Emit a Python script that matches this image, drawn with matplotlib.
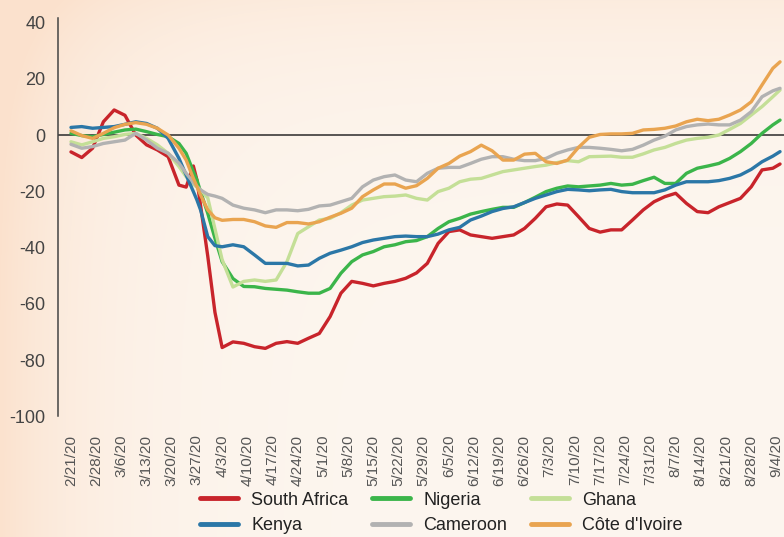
import matplotlib
matplotlib.use('Agg')
import matplotlib.pyplot as plt
import numpy as np
import pandas as pd

plt.rcParams['font.family'] = ['Liberation Sans', 'DejaVu Sans']
plt.rcParams['axes.unicode_minus'] = False

days = ([0, 3, 6, 9, 12, 15, 18, 21, 24, 27, 30, 32, 34, 35, 36, 38, 40, 42]
        + list(range(45, 196, 3)) + [197])

south_africa = [-6, -8, -4.7, 4.7, 8.9, 7, 0, -3.5, -5.3, -7.7, -17.8,
                -18.5, -11, -16, -25, -43, -63, -75.5,
                -73.5, -74, -75.2, -75.8, -74, -73.4, -74, -72.2, -70.5, -64.5,
                -56.2, -52, -52.7, -53.6, -52.7, -52, -50.9, -49, -45.6, -38.5,
                -34.3, -33.7, -35.5, -36.1, -36.7, -36.1, -35.5, -33.2, -29.6, -25.5,
                -24.5, -24.9, -29, -33.2, -34.5, -33.7, -33.7, -30.2, -26.6, -23.7,
                -21.9, -20.7, -24.3, -27.2, -27.6, -25.5, -24, -22.5, -18.4, -12.4,
                -11.8, -10.3]
kenya = [2.7, 3, 2.4, 2.7, 3, 3.8, 4.7, 4.1, 2.4, -1.2, -8.3,
         -14.2, -20.1, -23.1, -26.6, -36.1, -39.3, -39.7,
         -39, -39.7, -42.6, -45.6, -45.6, -45.6, -46.5, -46.2, -43.8, -42,
         -40.9, -39.7, -38.2, -37.3, -36.7, -36.1, -35.9, -36.1, -36.1, -35.2,
         -33.7, -32.8, -30.2, -28.8, -27.2, -26.1, -25.5, -24, -22.5, -21.3,
         -20.1, -19.3, -19.5, -19.8, -19.5, -19.3, -20.1, -20.5, -20.5, -20.5,
         -19.5, -17.8, -16.6, -16.6, -16.6, -16.2, -15.4, -14.2, -12.2, -9.5,
         -7.5, -5.9]
nigeria = [0.6, -0.2, -0.6, 0.2, 1, 1.8, 2.1, 1.2, 0.2, -0.6, -3,
           -6.5, -13, -16, -20.1, -27.8, -36.7, -45,
           -51, -53.8, -53.9, -54.5, -54.8, -55.1, -55.7, -56.2, -56.2, -54.5,
           -49.1, -45, -42.6, -41.4, -39.7, -39, -37.9, -37.5, -36.1, -33.2,
           -30.8, -29.6, -28.1, -27.2, -26.4, -25.7, -25.7, -24, -22.1, -20.1,
           -18.9, -18.1, -18.4, -18.1, -17.8, -17.2, -17.8, -17.5, -16.2, -15,
           -17.2, -17.2, -13.6, -11.8, -11, -10.1, -8.3, -5.9, -3, 0.6,
           3.6, 5.3]
ghana = [-2.4, -3.5, -2.4, -1.2, -0.6, 0.2, 0.6, -1.2, -3.5, -6.5, -11.2,
         -14.8, -17.5, -18.5, -19.5, -22.3, -33.3, -44.3,
         -54, -52, -51.5, -52, -51.5, -45, -35, -32.6, -30.2, -29.6,
         -27.6, -24.9, -23.1, -22.5, -21.9, -21.7, -21.3, -22.5, -23.1, -20.1,
         -18.9, -16.6, -15.7, -15.4, -14.2, -13, -12.4, -11.8, -11.2, -10.7,
         -9.8, -9.1, -9.5, -7.7, -7.6, -7.5, -7.9, -7.9, -6.7, -5.3,
         -4.4, -3, -1.8, -1.2, -0.8, 0, 2, 4.1, 7.1, 10.1,
         13.6, 16]
cameroon = [-3.3, -4.7, -4.1, -3, -2.4, -1.8, 0.6, -1.8, -4.7, -6.5, -10,
            -13.6, -16.8, -18.3, -19.5, -21.1, -21.7, -22.5,
            -24.9, -26, -26.6, -27.6, -26.6, -26.6, -26.9, -26.4, -25.2, -24.9,
            -23.7, -22.5, -18.4, -16, -14.8, -14.2, -16, -16.6, -13.6, -11.8,
            -11.5, -11.5, -10.1, -8.6, -7.7, -7.7, -8.6, -9.1, -9.1, -8.3,
            -6.5, -5.3, -4.4, -4.4, -4.7, -5.1, -5.6, -5.1, -3.6, -1.8,
            -0.4, 1.8, 3, 3.6, 3.9, 3.6, 3.6, 5.3, 8.3, 13.6,
            15.7, 16.6]
cote_divoire = [1.5, -0.2, -1.2, 0.6, 2.6, 3.8, 4.4, 3.8, 2.4, 0, -4.7,
                -8.9, -15.4, -18.3, -21.3, -26.6, -29.4, -30.3,
                -30, -30, -30.8, -32.3, -32.8, -31.1, -31.1, -31.6, -30.8, -29.2,
                -27.8, -26, -21.9, -19.5, -17.4, -17.4, -18.9, -18, -15.4, -11.8,
                -10.1, -7.5, -5.9, -3.6, -5.6, -8.9, -8.9, -6.8, -6.5, -9.5,
                -10.1, -8.9, -4.4, -0.8, 0.2, 0.4, 0.4, 0.6, 1.8, 2,
                2.4, 3.2, 4.7, 5.6, 5.1, 5.6, 7.1, 8.9, 11.8, 17.8,
                23.7, 26]

start = pd.Timestamp('2020-02-21')
dates = start + pd.to_timedelta(days, unit='D')
tick_dates = pd.date_range('2020-02-21', '2020-09-04', freq='7D')
tick_labels = [f'{d.month}/{d.day}/20' for d in tick_dates]

series = [
    ('South Africa', south_africa, '#C8242B'),
    ('Nigeria', nigeria, '#3BB54A'),
    ('Ghana', ghana, '#C4DF97'),
    ('Kenya', kenya, '#2B77A7'),
    ('Cameroon', cameroon, '#B2B2B2'),
    ("Côte d'Ivoire", cote_divoire, '#E9A450'),
]

fig = plt.figure(figsize=(7.84, 5.37), dpi=100)

# soft peach background, darker at the left and top edges
bg = fig.add_axes([0, 0, 1, 1], zorder=0)
h, w = 537, 784
xx = np.linspace(0, 1, w)[None, :]
yy = np.linspace(0, 1, h)[:, None]
base = np.array([253, 246, 239]) / 255
edge = np.array([251, 226, 206]) / 255
k = np.clip(np.exp(-xx / 0.12) + 0.5 * np.exp(-yy / 0.15), 0, 1)
img = base + (edge - base) * k[..., None]
bg.imshow(img, aspect='auto', extent=[0, 1, 0, 1])
bg.axis('off')

ax = fig.add_axes([0.074, 0.2244, 0.926, 0.7417], zorder=1)
ax.patch.set_alpha(0)

for name, vals, col in series:
    ax.plot(dates, vals, color=col, lw=2.4, label=name, solid_capstyle='round')

ax.axhline(0, color='#2a2a2a', lw=1.1, zorder=0.5)

ax.set_ylim(-100, 41.5)
ax.set_xlim(start - pd.Timedelta(days=3.6), start + pd.Timedelta(days=198.1))
ax.set_yticks(range(-100, 41, 20))
ax.set_xticks(tick_dates)
ax.set_xticklabels(tick_labels, rotation=90, va='top', ha='center')
ax.tick_params(axis='y', length=0, pad=9, labelsize=13, labelcolor='#444444')
ax.tick_params(axis='x', length=0, pad=13, labelsize=11, labelcolor='#555555')

for s in ['top', 'right', 'bottom']:
    ax.spines[s].set_visible(False)
ax.spines['left'].set_color('#444444')
ax.spines['left'].set_linewidth(1.1)

handles, labels = ax.get_legend_handles_labels()
order = [0, 3, 1, 4, 2, 5]
leg = fig.legend([handles[i] for i in order], [labels[i] for i in order],
                 loc='center', bbox_to_anchor=(0.563, 0.045), ncol=3,
                 frameon=False, fontsize=13, handlelength=2.1,
                 columnspacing=1.3, handletextpad=0.75, labelspacing=0.45)
for line in leg.get_lines():
    line.set_linewidth(3.5)
for t in leg.get_texts():
    t.set_color('#222222')

fig.savefig('out.png', dpi=100)
